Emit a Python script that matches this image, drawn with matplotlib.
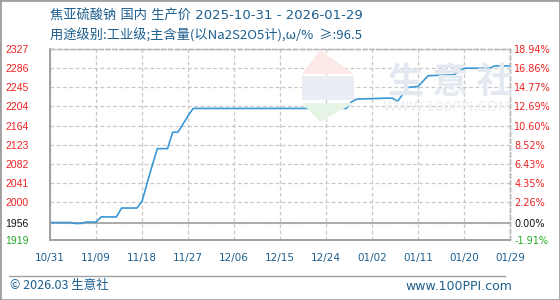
import numpy as np
import pandas as pd
import matplotlib
matplotlib.use("Agg")
import matplotlib.pyplot as plt
from matplotlib.patches import Polygon, Rectangle

# data
dates = ["2025-10-31", "2025-11-04", "2025-11-05", "2025-11-06", "2025-11-07",
         "2025-11-09", "2025-11-10", "2025-11-13", "2025-11-14", "2025-11-17",
         "2025-11-18", "2025-11-19", "2025-11-20", "2025-11-21", "2025-11-23",
         "2025-11-24", "2025-11-25", "2025-11-26", "2025-11-27", "2025-11-28",
         "2025-12-28", "2025-12-29", "2025-12-30", "2026-01-05", "2026-01-06",
         "2026-01-07", "2026-01-09", "2026-01-11", "2026-01-13", "2026-01-18",
         "2026-01-19", "2026-01-20", "2026-01-25", "2026-01-26", "2026-01-29"]
prices = [1956, 1956, 1954, 1954, 1957,
          1957, 1968, 1968, 1987, 1987,
          2001, 2040, 2078, 2114, 2114,
          2149, 2149, 2166, 2184, 2200,
          2200, 2214, 2220, 2222, 2222,
          2215, 2245, 2247, 2270, 2272,
          2279, 2286, 2286, 2291, 2291]
base = 1956
pct_ticks = [-1.91, 0.00, 2.26, 4.35, 6.43, 8.52, 10.60, 12.69, 14.77, 16.86, 18.94]
price_labels = ["1919", "1956", "2000", "2041", "2082", "2123", "2164", "2204", "2245", "2286", "2327"]
xtick_labels = ["10/31", "11/09", "11/18", "11/27", "12/06", "12/15", "12/24",
                "01/02", "01/11", "01/20", "01/29"]

title1 = "焦亚硫酸钠 国内 生产价 2025-10-31 - 2026-01-29"
title2 = "用途级别:工业级;主含量(以Na2S2O5计),ω/%  ≥:96.5"

plt.rcParams['font.family'] = ['DejaVu Sans']
cjk = ['Noto Sans CJK SC', 'DejaVu Sans']
blue_txt = '#1c5e8e'
line_c = '#3a98d6'

x = pd.to_datetime(dates)
start = pd.Timestamp("2025-10-31")
days = np.array([(d - start).days for d in x])
ytick_vals = [base * (1 + p / 100) for p in pct_ticks]

fig = plt.figure(figsize=(5.6, 3.0), dpi=100)
W, H = 560, 300
ax = fig.add_axes([50 / W, 60 / H, 460 / W, 190.7 / H])

# watermark
fig.patches.append(Polygon([(320 / W, 1 - 50 / H), (302 / W, 1 - 74 / H), (354 / W, 1 - 74 / H)],
                           closed=True, transform=fig.transFigure, fc='#fce8e6', ec='none', zorder=0))
fig.patches.append(Rectangle((302 / W, 1 - 100 / H), 52 / W, 24 / H,
                             transform=fig.transFigure, fc='#eaedf4', ec='none', zorder=0))
fig.patches.append(Polygon([(302 / W, 1 - 103 / H), (354 / W, 1 - 103 / H), (320 / W, 1 - 122 / H)],
                           closed=True, transform=fig.transFigure, fc='#e6f4e6', ec='none', zorder=0))
fig.text(450 / W, 1 - 82 / H, "生 意 社", family=cjk, fontsize=26, color='#e4e8f0',
         ha='center', va='center', zorder=0, fontweight='bold')
fig.text(447 / W, 1 - 107 / H, "WWW.100PPI.COM", fontsize=10, color='#eceef2',
         ha='center', va='center', zorder=0)
ax.set_facecolor('none')

ax.plot(days, prices, color=line_c, lw=1.2, zorder=3)
ax.axhline(base, color='#a0a0a0', lw=1.2, zorder=2)

ax.set_xlim(0, 90)
ax.set_ylim(ytick_vals[0], ytick_vals[-1])
ax.set_xticks(np.arange(0, 91, 9))
ax.set_xticklabels(xtick_labels, color=blue_txt, fontsize=7.5)
ax.set_yticks(ytick_vals)
ax.set_yticklabels(price_labels, fontsize=7.5, family=['Liberation Sans'])
ax.tick_params(axis='x', length=0, pad=9)
ax.tick_params(axis='y', length=0, pad=15.5)
for lab, p in zip(ax.get_yticklabels(), pct_ticks):
    lab.set_color('#ee2222' if p > 0 else ('#111111' if p == 0 else '#22aa22'))
ax.grid(True, color='#c8c8c8', ls=(0, (3, 2)), lw=0.9)

ax2 = ax.twinx()
ax2.set_ylim(ax.get_ylim())
ax2.set_yticks(ytick_vals)
ax2.set_yticklabels([f"{p:.2f}%" for p in pct_ticks], fontsize=7)
ax2.tick_params(axis='y', length=0, pad=3)
for lab, p in zip(ax2.get_yticklabels(), pct_ticks):
    lab.set_color('#ee2222' if p > 0 else ('#111111' if p == 0 else '#22aa22'))

for a in (ax, ax2):
    for s in ('left', 'bottom'):
        a.spines[s].set_color('#a0a0a0')
        a.spines[s].set_linewidth(1.2)
    for s in ('top', 'right'):
        a.spines[s].set_color('#b8b8b8')
        a.spines[s].set_linestyle((0, (3, 2)))
        a.spines[s].set_linewidth(1.0)

fig.text(50 / W, 1 - 16 / H, title1, family=['DejaVu Sans', 'Noto Sans CJK SC'],
         fontsize=9.5, color=blue_txt, va='center')
fig.text(50 / W, 1 - 35 / H, title2, family=cjk, fontsize=9.5, color=blue_txt, va='center')

# footer
fig.add_artist(plt.Line2D([9 / W, 505 / W], [1 - 275.5 / H, 1 - 275.5 / H],
                          transform=fig.transFigure, color='#a0a0a0', lw=1))
fig.text(10 / W, 1 - 286 / H, "© 2026.03 生意社", family=cjk, fontsize=9, color=blue_txt, va='center')
fig.text(512 / W, 1 - 286 / H, "www.100PPI.com", fontsize=9, color=blue_txt, va='center', ha='right')
fig.patches.append(Rectangle((0, 0), 1, 1, transform=fig.transFigure, fill=False,
                             ec='#a0a0a0', lw=2))

fig.savefig("out.png", dpi=100)
